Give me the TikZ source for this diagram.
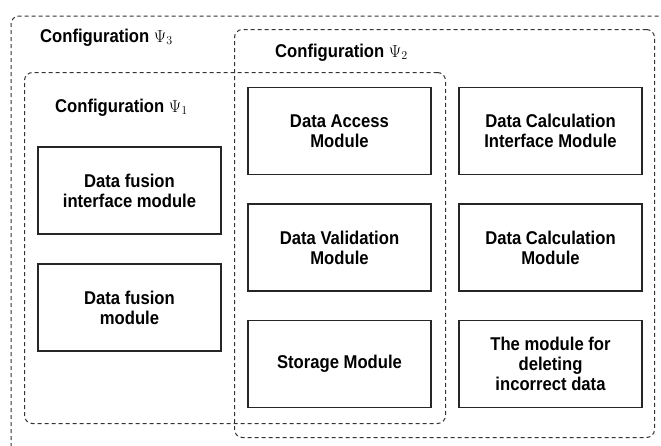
\documentclass[tikz,border=0pt]{standalone}
\usepackage{fontspec}
\setmainfont{Liberation Sans}[FakeStretch=0.9]
\begin{document}
\begin{tikzpicture}[x=1pt,y=-1pt,
  modbox/.style={draw=black!85, line width=1.2pt, fill=white,
    minimum width=183pt, minimum height=87pt, inner sep=0pt,
    align=center, font=\fontsize{18.5}{20}\selectfont\bfseries},
  frame/.style={draw=black!80, line width=1pt, dash pattern=on 4pt off 3pt,
    rounded corners=8pt},
  conftitle/.style={anchor=base west, inner sep=0pt,
    font=\fontsize{18.5}{20}\selectfont\bfseries}]
\useasboundingbox[fill=white] (0,0) rectangle (661,445);

% configuration frames
\draw[frame] (11,447) -- (11,16) -- (664,16);
\node[frame, minimum width=421pt, minimum height=351pt,
  inner sep=0pt, anchor=north west] (psi1) at (24,72) {};
\node[frame, minimum width=420pt, minimum height=408pt,
  inner sep=0pt, anchor=north west] (psi2) at (234,29) {};

% frame titles
\node[conftitle] (t3) at (40,42) {Configuration $\Psi_3$};
\node[conftitle] (t2) at (275,57) {Configuration $\Psi_2$};
\node[conftitle] (t1) at (55,112) {Configuration $\Psi_1$};

% modules
\node[modbox] (fusif) at (129.5,190.5) {Data fusion\\interface module};
\node[modbox] (fus)   at (129.5,307.5) {Data fusion\\module};
\node[modbox] (acc)   at (339.5,131)   {Data Access\\Module};
\node[modbox] (val)   at (339.5,247.5) {Data Validation\\Module};
\node[modbox] (sto)   at (339.5,364)   {Storage Module};
\node[modbox] (calcif) at (550.5,131)  {Data Calculation\\Interface Module};
\node[modbox] (calc)  at (550.5,247.5) {Data Calculation\\Module};
\node[modbox] (del)   at (550.5,364)   {The module for\\deleting\\incorrect data};
\end{tikzpicture}
\end{document}
